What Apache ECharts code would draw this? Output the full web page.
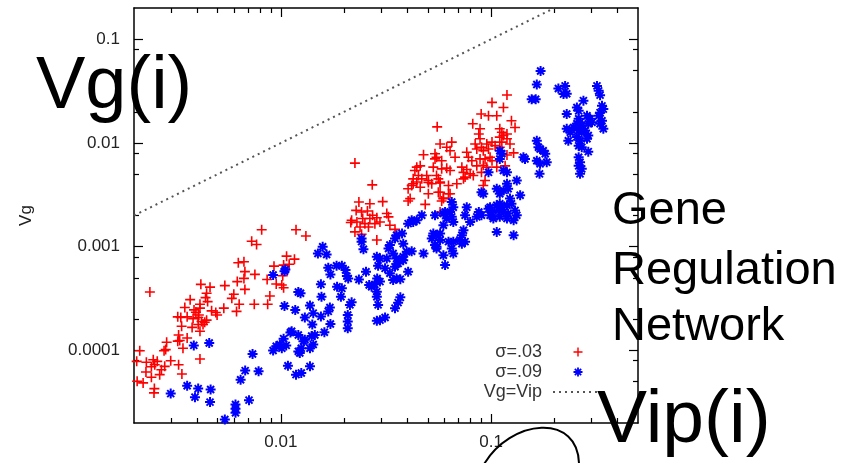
<!DOCTYPE html>
<html>
<head>
<meta charset="utf-8">
<script src="https://cdn.jsdelivr.net/npm/echarts@6/dist/echarts.min.js"></script>
<style>
  html, body { margin: 0; padding: 0; background: #fff; }
  #chart { width: 859px; height: 463px; }
</style>
</head>
<body>
<div id="chart"></div>
<script>
// Gene regulation network: Vg versus Vip per gene, two noise levels.
const seriesNames = ['σ=.03', 'σ=.09', 'Vg=Vip'];

// sigma = 0.03
const vipSigma03 = [
  0.0081,0.0118,0.00726,0.00766,0.00627,0.00667,0.00674,0.00752,0.00927,0.01064,
  0.0116,0.01095,0.0103,0.0086,0.0095,0.0101,0.0103,0.0102,0.00886,0.00865,
  0.00747,0.00674,0.00667,0.0062,0.00633,0.00615,0.00584,0.00597,0.00541,0.00535,
  0.0049,0.00497,0.00468,0.0046,0.00443,0.00438,0.00448,0.00416,0.00412,0.00412,
  0.00407,0.00404,0.0037,0.00349,0.00323,0.00334,0.00358,0.00386,0.00394,0.00382,
  0.00378,0.00412,0.00426,0.00434,0.00443,0.00419,0.00404,0.00337,0.00326,0.00323,
  0.0033,0.00358,0.00342,0.00286,0.00283,0.00278,0.00299,0.00326,0.00338,0.0028,
  0.00265,0.0027,0.00258,0.00247,0.00251,0.00242,0.00238,0.00412,0.00213,0.00206,
  0.00229,0.00228,0.00242,0.00221,0.00207,0.0025,0.00249,
  0.0272,0.01315,0.0225,0.0235,0.0265,0.0305,0.0228,0.0242,0.0258,0.0217,
  0.023,0.0245,0.0251,0.0265,0.0273,0.0286,0.0296,0.0319,0.0325,0.028,
  0.0261,0.0238,0.0225,0.0242,0.0286,0.033,0.0349,0.0215,
  0.0403,0.0486,0.0426,0.046,0.0503,0.0572,0.0561,0.0503,0.0593,0.0627,0.0582,0.0477,0.0541,
  0.119,0.101,0.1145,0.0897,0.0972,0.1064,0.0554,0.0818,0.0886,0.125,
  0.13,0.11,0.1125,0.1145,0.11,0.119,0.119,0.0874,0.0886,0.084,
  0.0855,0.09,0.0918,0.0954,0.0972,0.101,0.1045,0.1125,0.11,0.123,
  0.0572,0.065,0.0615,0.0638,0.0674,
  0.0541,0.055,0.0582,0.0766,0.078,0.081,0.0886,0.0936,0.0989,0.101,
  0.0855,0.0918,0.0954,0.1064,0.1166,0.119,0.128,
  0.0443,0.046,0.0434,0.0531,0.0582,0.0615,0.0638,0.0726,0.0739,0.0766,
  0.0795,0.0823,0.0752,0.09,0.0426,0.0443,0.0451,0.0468,0.0403,0.0419,
  0.0494,0.0503,0.0522,0.055,0.0561,0.0572,0.0627,0.0687,0.0739,0.0936,
  0.0918,0.0572,0.0638,0.0593,0.0412,0.0572
];
const vgSigma03 = [
  0.00146,0.00146,0.00113,0.00105,0.000701,0.000716,0.000575,0.000541,0.00065,0.000811,
  0.000759,0.000679,0.000665,0.000484,0.000437,0.000427,0.000403,0.000526,0.000335,0.000279,
  0.000279,0.000388,0.000495,0.000461,0.000279,0.000238,0.000318,0.000348,0.000422,0.000256,
  0.000232,0.00022,0.000241,0.000408,0.000356,0.000323,0.000296,0.000434,0.000279,0.000256,
  0.00022,0.000208,0.000309,0.00026,0.000211,0.000208,0.000211,0.000246,0.000234,0.000203,
  0.000167,0.000153,0.000178,0.000187,0.000196,0.00019,0.000178,0.000171,0.000141,0.000123,
  0.000125,0.000132,0.000105,0.00012,0.000102,0.0000993,0.0000795,0.0000729,0.0000594,0.0000703,
  0.0000585,0.0000653,0.0000786,0.0000814,0.0000729,0.0000698,0.000366,0.0000827,0.0000993,0.0000786,
  0.0000769,0.000062,0.0000552,0.0000487,0.0000505,0.0000429,0.000039,
  0.00395,0.00127,0.0064,0.0027,0.0026,0.00272,0.00224,0.00216,0.00221,0.0018,
  0.00173,0.00187,0.00167,0.00187,0.00201,0.0019,0.00173,0.00209,0.00194,0.00167,
  0.00155,0.00155,0.00139,0.00132,0.00116,0.00161,0.00147,0.00171,
  0.00276,0.00256,0.00404,0.00374,0.00416,0.00413,0.00335,0.00324,0.00291,0.00324,0.00276,0.00769,0.00787,
  0.029,0.0246,0.022,0.019,0.0183,0.0183,0.0143,0.0153,0.0137,0.0164,
  0.0141,0.0137,0.0127,0.0118,0.0114,0.0122,0.011,0.0122,0.011,0.00978,
  0.00876,0.00909,0.00843,0.00978,0.00876,0.0102,0.00942,0.0102,0.00909,0.00978,
  0.00978,0.0102,0.00909,0.00843,0.00729,
  0.00702,0.00729,0.00675,0.00814,0.00729,0.00675,0.00702,0.00702,0.00729,0.00675,
  0.00602,0.0061,0.00585,0.00585,0.00602,0.00767,0.00802,
  0.00585,0.00602,0.00543,0.00585,0.00563,0.00572,0.00543,0.00585,0.00521,0.00555,
  0.00504,0.00486,0.00469,0.00521,0.00451,0.0042,0.00486,0.00451,0.00362,0.00389,
  0.00486,0.00435,0.00404,0.00486,0.00451,0.0042,0.00389,0.00404,0.00451,0.00435,
  0.00389,0.00335,0.00324,0.00295,0.00291,0.00216
];

// sigma = 0.09
const vipSigma09 = [
  0.00918,0.0105,0.0104,0.0121,0.0104,0.0117,0.0121,0.0111,0.0103,0.0106,
  0.0095,0.00918,0.00733,0.00783,0.00676,0.00643,0.0108,0.0118,0.0121,0.00385,
  0.00456,0.00358,0.00404,0.00463,0.0039,0.0046,0.00299,0.00608,0.00608,0.00608,
  0.00705,0.00541,0.00989,
  0.01125,0.013,0.014,0.01425,0.01375,0.0125,0.0123,0.0128,0.0125,0.01375,0.0101,
  0.0158,0.015,0.0165,0.0242,0.0247,0.0242,0.0168,0.0172,0.0184,0.0195,
  0.0203,0.0206,0.0209,0.0155,0.0185,0.0195,0.0193,0.0156,0.0124,0.01375,
  0.01425,0.013,0.0141,0.0155,0.0168,0.0171,0.0172,0.0161,0.0145,0.0208,
  0.0208,0.0208,0.0213,0.0217,0.0235,0.0254,0.0263,0.027,0.028,0.0287,
  0.0296,0.0286,0.0286,0.029,0.0286,0.0296,0.0313,0.0349,0.0361,0.037,
  0.0313,0.033,0.0342,0.0355,0.037,0.0349,0.0361,0.0355,0.0342,0.0325,
  0.033,0.0286,0.0296,0.029,0.0319,0.0382,0.0397,0.0419,0.0355,0.0349,
  0.0382,0.0403,0.0419,0.0443,0.0468,0.0477,0.0541,0.055,0.0572,0.0541,
  0.055,0.0593,0.0604,0.0604,0.0593,
  0.165,0.156,0.163,0.209,0.172,0.165,0.168,0.177,0.181,0.184,
  0.165,0.171,0.17,0.1425,0.145,0.11,0.1125,0.11,0.1145,0.119,
  0.0972,0.1325,0.119,0.1205,0.1145,0.11,0.1064,0.09,0.0918,0.1375,
  0.123,0.125,0.119,0.1125,0.11,0.1064,0.0989,0.101,0.1084,0.1145,
  0.1205,0.13,0.1325,0.128,0.119,0.11,0.1025,0.1064,0.128,0.065,
  0.0661,0.0638,0.065,0.0661,0.0766,0.0752,0.0874,0.09,0.0855,0.0795,
  0.0972,0.0989,0.0593,0.0615,0.0426,0.0739,0.0726,0.071,0.0726,0.0752,
  0.0661,0.0627,0.0531,0.0572,0.0522,0.055,0.065,0.0661,0.0382,0.0403,0.0377,
  0.225,0.229,0.221,0.319,0.325,0.33,0.275,0.256,0.261,0.229,
  0.337,0.342,0.33,0.325,0.337,0.342,0.33,0.286,0.296,0.302,
  0.29,0.261,0.265,0.27,0.256,0.247,0.261,0.27,0.28,0.229,
  0.238,0.233,0.256,0.265,0.261,0.27,0.286,0.29,0.29,0.261,
  0.265,0.261,0.27,0.265,0.171
];
const vgSigma09 = [
  0.000533,0.000604,0.00058,0.000366,0.000268,0.000246,0.000141,0.000149,0.00013,0.000112,
  0.00011,0.0001,0.0000924,0.000063,0.000064,0.0000523,0.0000713,0.0000585,0.000098,0.000112,
  0.000118,0.0000458,0.0000429,0.000042,0.0000355,0.0000318,0.0000384,0.0000302,0.0000251,0.0000274,
  0.0000332,0.0000216,0.000114,
  0.000153,0.000127,0.000138,0.000114,0.000105,0.000105,0.0000944,0.000123,0.0000607,0.0000703,0.000105,
  0.000998,0.00086,0.000842,0.00112,0.000946,0.0012,0.000627,0.000541,0.000656,0.000656,
  0.000596,0.000521,0.000495,0.000434,0.000412,0.000397,0.00033,0.00033,0.000356,0.000271,
  0.000229,0.000208,0.000178,0.000213,0.000238,0.00026,0.00018,0.00015,0.000141,0.00022,
  0.00019,0.000164,0.000275,0.000291,0.000484,0.000575,0.000427,0.000412,0.000434,0.000495,
  0.000461,0.000369,0.00033,0.000275,0.000193,0.000196,0.000208,0.000256,0.000289,0.000325,
  0.000619,0.000555,0.000477,0.000495,0.000487,0.000641,0.00069,0.000771,0.00086,0.000961,
  0.00104,0.0008,0.000771,0.000656,0.000771,0.0008,0.000893,0.000905,0.00129,0.0012,
  0.00107,0.00167,0.0018,0.0018,0.00201,0.00086,0.00201,0.00129,0.00116,0.00104,
  0.000961,0.000828,0.000665,0.00216,0.00161,
  0.0366,0.0264,0.0264,0.0335,0.0494,0.0105,0.00909,0.00843,0.00787,0.00653,
  0.00675,0.00629,0.00504,0.00729,0.00702,0.00843,0.00787,0.00702,0.00543,0.00521,
  0.00521,0.00435,0.00404,0.00362,0.00349,0.00324,0.00362,0.00335,0.00324,0.00313,
  0.00291,0.0026,0.00251,0.0024,0.0026,0.00251,0.0024,0.00216,0.00224,0.00216,
  0.00209,0.00224,0.00201,0.0018,0.00187,0.00194,0.00187,0.00139,0.00129,0.0027,
  0.0024,0.00216,0.00194,0.00173,0.0024,0.00201,0.00216,0.00201,0.00194,0.00173,
  0.00232,0.00201,0.00209,0.00187,0.00173,0.00144,0.00129,0.00116,0.00107,0.00112,
  0.00112,0.00112,0.00134,0.00134,0.0012,0.000998,0.000961,0.00086,0.000742,0.000575,0.00134,
  0.0355,0.0298,0.0296,0.0355,0.0318,0.0289,0.0256,0.022,0.0204,0.019,
  0.0228,0.0212,0.0196,0.0183,0.0164,0.0137,0.0153,0.0183,0.0171,0.0158,
  0.0153,0.0171,0.0158,0.0147,0.0153,0.0141,0.0132,0.0127,0.0132,0.0137,
  0.0127,0.0105,0.0114,0.0105,0.00942,0.00909,0.011,0.0118,0.00825,0.00729,
  0.00653,0.00602,0.00563,0.00504,0.00876
];

// Reference line Vg = Vip, from the left edge to the top edge
const identityVip = [0.002, 0.2];

// Axis ranges and ticks
const xRange = [0.002, 0.5];
const yRange = [0.00002, 0.2];
const xMajorTicks = [0.01, 0.1];
const xMinorTicks = [0.003,0.004,0.005,0.006,0.007,0.008,0.009,
                     0.02,0.03,0.04,0.05,0.06,0.07,0.08,0.09,0.2,0.3,0.4];
const yMajorTicks = [0.0001, 0.001, 0.01, 0.1];
const yMinorTicks = [0.00005,0.00008,0.0002,0.0005,0.0008,0.002,0.005,0.008,0.02,0.05,0.08];

const FONT = '"Liberation Sans", Arial, Helvetica, sans-serif';
const plusSymbol = 'path://M4.2,0H5.8V4.2H10V5.8H5.8V10H4.2V5.8H0V4.2H4.2Z';
const starSymbol = 'path://M4,0H6V10H4Z M0,4H10V6H0Z ' +
  'M2.21,0.79L9.21,7.79L7.79,9.21L0.79,2.21Z M7.79,0.79L9.21,2.21L2.21,9.21L0.79,7.79Z';

const zip = (xs, ys) => xs.map((x, i) => [x, ys[i]]);
const fmt = v => v.toFixed(Math.max(0, Math.round(-Math.log10(v))));

function axis(kind, position, ticks, len, withLine, withLabels) {
  const range = kind === 'x' ? xRange : yRange;
  const a = {
    type: 'log', logBase: 10, min: range[0], max: range[1], position: position,
    splitLine: { show: false },
    axisLine: { show: withLine, onZero: false, lineStyle: { color: '#000', width: 1.5 } },
    axisTick: { show: true, inside: true, length: len, customValues: ticks,
                lineStyle: { color: '#000', width: 1.2 } },
    axisLabel: { show: withLabels },
    axisPointer: { show: false }
  };
  if (withLabels) {
    a.axisLabel = {
      show: true, customValues: ticks, formatter: fmt,
      color: '#222', fontSize: 17, fontFamily: FONT,
      margin: kind === 'x' ? 11 : 14
    };
  }
  return a;
}

const chart = echarts.init(document.getElementById('chart'), null, { renderer: 'canvas' });

const yMain = axis('y', 'left', yMajorTicks, 9, true, true);
yMain.name = 'Vg';
yMain.nameLocation = 'middle';
yMain.nameGap = 99;
yMain.nameRotate = 90;
yMain.nameTextStyle = { color: '#222', fontSize: 17, fontFamily: FONT };

chart.setOption({
  animation: false,
  backgroundColor: '#fff',
  grid: { left: 134, top: 8, width: 504, height: 415 },
  xAxis: [
    axis('x', 'bottom', xMajorTicks, 9, true, true),
    axis('x', 'bottom', xMinorTicks, 5, false, false),
    axis('x', 'top', xMajorTicks, 9, true, false),
    axis('x', 'top', xMinorTicks, 5, false, false)
  ],
  yAxis: [
    yMain,
    axis('y', 'left', yMinorTicks, 5, false, false),
    axis('y', 'right', yMajorTicks, 9, true, false),
    axis('y', 'right', yMinorTicks, 5, false, false)
  ],
  legend: {
    data: [
      { name: seriesNames[0] },
      { name: seriesNames[1] },
      { name: seriesNames[2], itemStyle: { opacity: 0 } }
    ],
    orient: 'vertical',
    align: 'right',
    right: 250,
    top: 338,
    itemWidth: 50,
    itemHeight: 9,
    itemGap: 2,
    selectedMode: false,
    textStyle: { color: '#333', fontSize: 18, fontFamily: FONT, padding: [0, 6, 0, 0] }
  },
  series: [
    {
      name: seriesNames[2], type: 'line',
      data: zip(identityVip, identityVip),
      symbol: 'none', silent: true,
      itemStyle: { color: '#555' },
      lineStyle: { color: '#555', width: 2, type: [2, 4] },
      z: 1
    },
    {
      name: seriesNames[0], type: 'scatter',
      data: zip(vipSigma03, vgSigma03),
      symbol: plusSymbol, symbolSize: 10,
      itemStyle: { color: '#ff0000', opacity: 1 },
      z: 2
    },
    {
      name: seriesNames[1], type: 'scatter',
      data: zip(vipSigma09, vgSigma09),
      symbol: starSymbol, symbolSize: 10,
      itemStyle: { color: '#0000ff', opacity: 1 },
      z: 3
    }
  ],
  graphic: [
    { type: 'text', z: 100, style: { x: 36, y: 87.4, text: 'Vg(i)', fill: '#000',
      font: '74px ' + FONT, verticalAlign: 'middle' } },
    { type: 'text', z: 100, style: { x: 612, y: 210.7, text: 'Gene', fill: '#000',
      font: '47px ' + FONT, verticalAlign: 'middle' } },
    { type: 'text', z: 100, style: { x: 612, y: 270.7, text: 'Regulation', fill: '#000',
      font: '47px ' + FONT, verticalAlign: 'middle' } },
    { type: 'text', z: 100, style: { x: 612, y: 326.7, text: 'Network', fill: '#000',
      font: '47px ' + FONT, verticalAlign: 'middle' } },
    { type: 'text', z: 100, style: { x: 597, y: 421, text: 'Vip(i)', fill: '#000',
      font: '75px ' + FONT, verticalAlign: 'middle' } },
    { type: 'bezierCurve', z: 100,
      shape: { x1: 483, y1: 466, x2: 579, y2: 466, cpx1: 510, cpy1: 418, cpx2: 580, cpy2: 412 },
      style: { stroke: '#000', lineWidth: 2, fill: null } }
  ]
});
</script>
</body>
</html>
